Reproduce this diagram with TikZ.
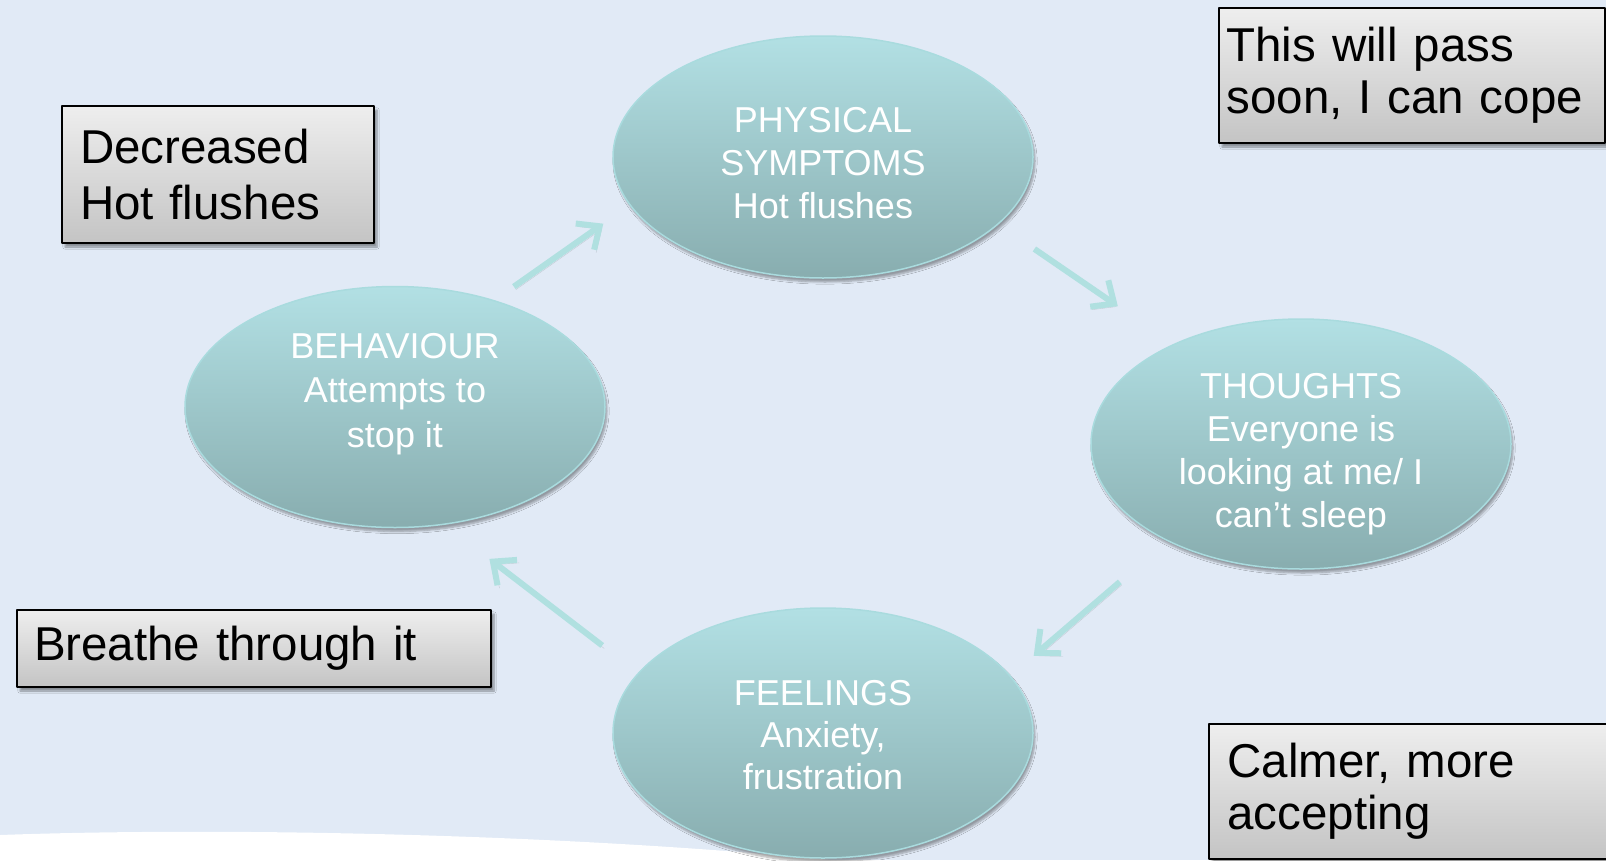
\documentclass[tikz,border=0pt]{standalone}
\usepackage{fontspec}
\setmainfont{Liberation Sans}
\usetikzlibrary{shapes.geometric,arrows.meta,shadows.blur}
\definecolor{bgblue}{HTML}{E1EAF6}
\definecolor{tealtop}{HTML}{B2E0E4}
\definecolor{tealbot}{HTML}{88ADAF}
\definecolor{tealline}{HTML}{A9DBDE}
\definecolor{arrowteal}{HTML}{B0E0E0}
\definecolor{boxtop}{HTML}{EEEEEE}
\definecolor{boxbot}{HTML}{C4C4C4}
\begin{document}
\begin{tikzpicture}[x=1pt,y=-1pt,line join=round,
	bubble/.style={ellipse,minimum width=420pt,inner sep=0pt,draw=tealline,line width=1.5pt,top color=tealtop,bottom color=tealbot,blur shadow={shadow xshift=2pt,shadow yshift=-4pt,shadow opacity=35,shadow blur steps=6}},
	bubtext/.style={text=white,align=center,inner sep=0pt,font=\fontsize{36}{43}\selectfont},
	notebox/.style={draw=black,line width=2pt,anchor=north west,align=left,inner ysep=0pt,top color=boxtop,bottom color=boxbot,font=\fontsize{47.5}{52}\selectfont,blur shadow={shadow xshift=3pt,shadow yshift=-4pt,shadow opacity=40,shadow blur steps=6}},
	flow/.style={draw=arrowteal,line width=6pt,-{Straight Barb[length=18pt,width=32pt]},preaction={draw=black!70,opacity=.2,transform canvas={shift={(2pt,-3pt)}}}}]
	\useasboundingbox (0,0) rectangle (1606,860);
	\fill[bgblue] (0,0) rectangle (1606,860);
	\fill[white] (0,835) .. controls (250,826) and (600,836) .. (850,862) -- (0,862) -- cycle;
	%Bubbles
	\node[bubble,minimum height=242pt] (phys) at (823,157) {};
	\node[bubble,minimum height=241pt] (beh) at (395,407) {};
	\node[bubble,minimum height=250pt] (thou) at (1301,444) {};
	\node[bubble,minimum height=250pt] (feel) at (823,733) {};
	\node[bubtext] (physT) at (823,163) {PHYSICAL\\SYMPTOMS\\Hot flushes};
	\node[bubtext,font=\fontsize{36}{44.5}\selectfont] (behT) at (395,394) {BEHAVIOUR\\Attempts to\\stop it};
	\node[bubtext,font=\fontsize{36}{43}\selectfont] (thouT) at (1301,454) {THOUGHTS\\Everyone is\\looking at me/ I\\can’t sleep};
	\node[bubtext,font=\fontsize{36}{42}\selectfont] (feelT) at (823,735) {FEELINGS\\Anxiety,\\frustration};
	%Arrows
	\draw[flow,shorten <=23.5pt,shorten >=32pt] (beh.47) -- (phys.194);
	\draw[flow,shorten <=43.5pt,shorten >=67pt] (phys.339) -- (thou.142);
	\draw[flow,shorten <=62.5pt,shorten >=30.5pt] (thou.216) -- (feel.17);
	\draw[flow,shorten <=45pt,shorten >=56pt] (feel.162) -- (beh.293);
	%Boxes
	\node[notebox,font=\fontsize{47.5}{56}\selectfont,minimum width=312pt,minimum height=137pt,text width=276pt,inner xsep=18pt] (dec) at (61,105) {Decreased\\Hot flushes};
	\node[notebox,minimum width=386pt,minimum height=135pt,text width=371pt,inner xsep=7.5pt] (pass) at (1218,7) {This will pass\\soon, I can cope};
	\node[notebox,minimum width=474pt,minimum height=77pt,text width=440pt,inner xsep=17pt] (breathe) at (16,609) {Breathe through it};
	\node[notebox,minimum width=430pt,minimum height=135pt,text width=393pt,inner xsep=18.5pt] (calm) at (1208,723) {Calmer, more\\accepting};
\end{tikzpicture}
\end{document}
